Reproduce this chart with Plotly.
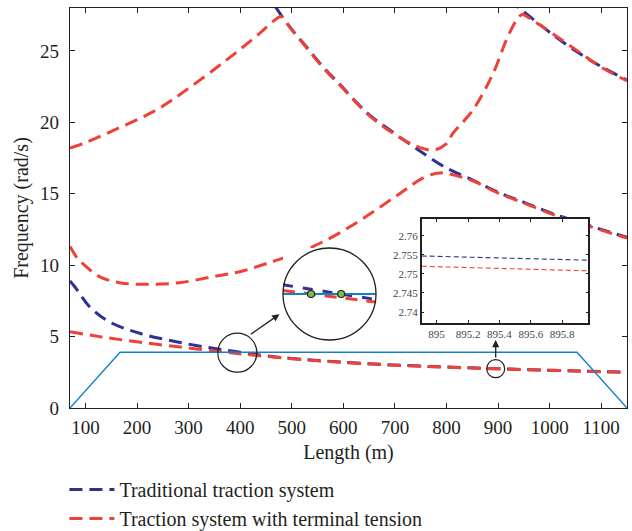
import plotly.graph_objects as go

# ---------------- data ----------------
# Traditional traction system (three visible modes)
trad_A_L = [70, 80, 108, 146, 205, 276, 347, 400, 450, 500, 580, 680, 780, 860, 895, 960, 1060, 1150]
trad_A_f = [8.9, 8.45, 7.09, 6.04, 5.23, 4.64, 4.18, 3.90, 3.65, 3.47, 3.25, 3.04, 2.89, 2.795, 2.755, 2.685, 2.585, 2.505]

trad_B_L = [450, 470, 500, 528, 560, 592, 620, 651, 700, 750, 800, 851, 900, 950, 1006, 1050, 1100, 1150]
trad_B_f = [29.3, 28.0, 26.5, 25.3, 23.9, 22.7, 21.6, 20.5, 19.2, 17.95, 16.8, 15.95, 15.1, 14.4, 13.6, 13.1, 12.5, 11.95]

trad_C_L = [920, 941, 960, 1000, 1050, 1100, 1150]
trad_C_f = [28.6, 28.0, 27.45, 26.3, 25.0, 23.9, 22.95]

# Traction system with terminal tension (three visible modes)
tens_A_L = [70, 130, 200, 280, 360, 420, 500, 580, 680, 780, 860, 895, 960, 1060, 1150]
tens_A_f = [5.34, 4.98, 4.63, 4.28, 3.95, 3.72, 3.45, 3.24, 3.03, 2.88, 2.79, 2.752, 2.68, 2.58, 2.50]

tens_B_L = [70, 82, 95, 127, 166, 218, 282, 347, 399, 450, 515, 580, 644, 709, 760, 793, 815, 851, 900, 950, 1006, 1050, 1100, 1150]
tens_B_f = [11.3, 10.6, 10.1, 9.2, 8.77, 8.66, 8.77, 9.19, 9.54, 10.1, 10.9, 12.0, 13.4, 15.0, 16.2, 16.47, 16.3, 15.9, 15.05, 14.35, 13.55, 13.05, 12.45, 11.9]

tens_C_L = [70, 95, 146, 237, 295, 373, 437, 465, 480, 495, 528, 560, 592, 651, 700, 740, 775, 800, 812, 851, 890, 916, 935, 947, 960, 1006, 1064, 1100, 1150]
tens_C_f = [18.2, 18.5, 19.3, 20.85, 22.25, 24.35, 26.2, 27.1, 27.4, 26.7, 25.25, 23.85, 22.65, 20.45, 19.15, 18.35, 18.05, 18.5, 19.2, 20.85, 23.4, 25.75, 27.1, 27.55, 27.3, 26.2, 24.75, 23.85, 22.9]

# Speed-profile trapezoid (solid light-blue line)
prof_L = [70, 167, 1053, 1150]
prof_f = [0, 3.9, 3.9, 0]

# Magnified view (circle) data
mag_L = [380, 410]
mag_trad = [3.920, 3.888]
mag_tens = [3.9076, 3.8824]
mag_prof = [3.9, 3.9]

# Rectangular inset data
ins_L = [894.905, 895.966]
ins_trad = [2.7547, 2.7536]
ins_tens = [2.7520, 2.7508]
ins_xticks = [895, 895.2, 895.4, 895.6, 895.8]
ins_xtext = ["895", "895.2", "895.4", "895.6", "895.8"]
ins_yticks = [2.74, 2.745, 2.75, 2.755, 2.76]
ins_ytext = ["2.74", "2.745", "2.75", "2.755", "2.76"]

x_ticks = list(range(100, 1101, 100))
y_ticks = [0, 5, 10, 15, 20, 25]

# ---------------- styles ----------------
NAVY = "#2e3192"
RED = "#ef4136"
CYAN = "#1282c8"
GREEN = "#7cc243"
INK = "#231f20"
FONT = "Liberation Serif"
DASH = "13px,7px"


def crossing(xs, ys, level):
    t = (ys[0] - level) / (ys[0] - ys[1])
    return xs[0] + t * (xs[1] - xs[0])


fig = go.Figure()

# traditional
for i, (xs, ys) in enumerate([(trad_A_L, trad_A_f), (trad_B_L, trad_B_f), (trad_C_L, trad_C_f)]):
    fig.add_trace(go.Scatter(x=xs, y=ys, mode="lines", line=dict(color=NAVY, width=3, dash=DASH),
                             name="Traditional traction system", legendgroup="trad",
                             showlegend=(i == 0), line_shape="spline"))
# terminal tension
for i, (xs, ys) in enumerate([(tens_A_L, tens_A_f), (tens_B_L, tens_B_f), (tens_C_L, tens_C_f)]):
    fig.add_trace(go.Scatter(x=xs, y=ys, mode="lines", line=dict(color=RED, width=3, dash=DASH),
                             name="Traction system with terminal tension", legendgroup="tens",
                             showlegend=(i == 0), line_shape="spline"))
# profile
fig.add_trace(go.Scatter(x=prof_L, y=prof_f, mode="lines", line=dict(color=CYAN, width=1.4),
                         showlegend=False))

# magnifier contents
fig.add_trace(go.Scatter(x=mag_L, y=mag_trad, mode="lines", xaxis="x2", yaxis="y2",
                         line=dict(color=NAVY, width=3, dash="10px,10px"), showlegend=False))
fig.add_trace(go.Scatter(x=mag_L, y=mag_tens, mode="lines", xaxis="x2", yaxis="y2",
                         line=dict(color=RED, width=3, dash="12px,9px"), showlegend=False))
fig.add_trace(go.Scatter(x=mag_L, y=mag_prof, mode="lines", xaxis="x2", yaxis="y2",
                         line=dict(color=CYAN, width=2), showlegend=False))
fig.add_trace(go.Scatter(x=[crossing(mag_L, mag_tens, mag_prof[0]), crossing(mag_L, mag_trad, mag_prof[0])],
                         y=[mag_prof[0], mag_prof[0]], mode="markers", xaxis="x2", yaxis="y2",
                         marker=dict(color=GREEN, size=7, line=dict(color=INK, width=1.2)),
                         showlegend=False))

# rectangular inset contents
fig.add_trace(go.Scatter(x=ins_L, y=ins_trad, mode="lines", xaxis="x3", yaxis="y3",
                         line=dict(color=NAVY, width=1.1, dash="5px,3px"), showlegend=False))
fig.add_trace(go.Scatter(x=ins_L, y=ins_tens, mode="lines", xaxis="x3", yaxis="y3",
                         line=dict(color=RED, width=1.1, dash="5px,3px"), showlegend=False))

axis_common = dict(showline=True, linecolor=INK, linewidth=1.3, mirror="ticks", ticks="inside",
                   ticklen=5, tickwidth=1.3, tickcolor=INK, showgrid=False, zeroline=False,
                   tickfont=dict(family=FONT, size=19, color=INK))

fig.update_layout(
    width=632, height=531,
    margin=dict(l=70, r=5, t=8, b=123, autoexpand=False),
    paper_bgcolor="white", plot_bgcolor="white",
    font=dict(family=FONT, color=INK),
    xaxis=dict(range=[70, 1150], tickvals=x_ticks, ticklabelstandoff=2, automargin=False,
               title=dict(text="Length (m)", font=dict(family=FONT, size=20, color=INK), standoff=8),
               **axis_common),
    yaxis=dict(range=[0, 28], tickvals=y_ticks, ticklabelstandoff=6, automargin=False,
               title=dict(text="Frequency (rad/s)", font=dict(family=FONT, size=20, color=INK), standoff=6),
               **axis_common),
    xaxis2=dict(domain=[(283 - 70) / 557, (376 - 70) / 557], range=mag_L, anchor="y2", visible=False),
    yaxis2=dict(domain=[(408 - 340) / 400, (408 - 248) / 400], range=[3.8, 4.0], anchor="x2", visible=False),
    xaxis3=dict(domain=[0.6314, 0.9305], range=ins_L, anchor="y3", tickvals=ins_xticks, ticktext=ins_xtext,
                showline=True, linecolor=INK, linewidth=1.5, mirror="ticks", ticks="inside", ticklen=3,
                tickcolor=INK, showgrid=False, zeroline=False,
                tickfont=dict(family=FONT, size=11, color="#444")),
    yaxis3=dict(domain=[0.2133, 0.4725], range=[2.7372, 2.7644], anchor="x3", tickvals=ins_yticks,
                ticktext=ins_ytext, showline=True, linecolor=INK, linewidth=1.5, mirror="ticks",
                ticks="inside", ticklen=3, tickcolor=INK, showgrid=False, zeroline=False,
                tickfont=dict(family=FONT, size=11, color="#444")),
    legend=dict(x=-0.01, y=-0.155, xanchor="left", yanchor="top", orientation="v",
                font=dict(family=FONT, size=20, color=INK), bgcolor="rgba(0,0,0,0)",
                tracegroupgap=0, itemwidth=45),
    showlegend=True,
)

# white background for the rectangular inset (covers the main curves)
fig.add_shape(type="rect", xref="x3 domain", yref="y3 domain", x0=0, x1=1, y0=0, y1=1,
              fillcolor="white", line=dict(width=0), layer="below")
# magnifier circle
fig.add_shape(type="circle", xref="x2 domain", yref="y2 domain", x0=0, x1=1, y0=0, y1=1,
              line=dict(color=INK, width=1.3))
# small circles marking the zoomed regions
fig.add_shape(type="circle", xref="x", yref="y", xsizemode="pixel", ysizemode="pixel",
              xanchor=394.4, yanchor=3.87, x0=-19.5, x1=19.5, y0=-19.5, y1=19.5,
              line=dict(color=INK, width=1.2))
fig.add_shape(type="circle", xref="x", yref="y", xsizemode="pixel", ysizemode="pixel",
              xanchor=895.4, yanchor=2.752, x0=-9, x1=9, y0=-9, y1=9,
              line=dict(color=INK, width=1.2))
# arrows
fig.add_annotation(x=476, y=6.56, ax=-30, ay=21, text="", showarrow=True, arrowhead=2,
                   arrowsize=1.1, arrowwidth=1.3, arrowcolor=INK, xref="x", yref="y")
fig.add_annotation(x=895.4, y=4.76, ax=0, ay=19, text="", showarrow=True, arrowhead=2,
                   arrowsize=1.1, arrowwidth=1.3, arrowcolor=INK, xref="x", yref="y")

fig.write_html("out.html", post_script="document.body.style.margin='0';",
               config={"displayModeBar": False})
